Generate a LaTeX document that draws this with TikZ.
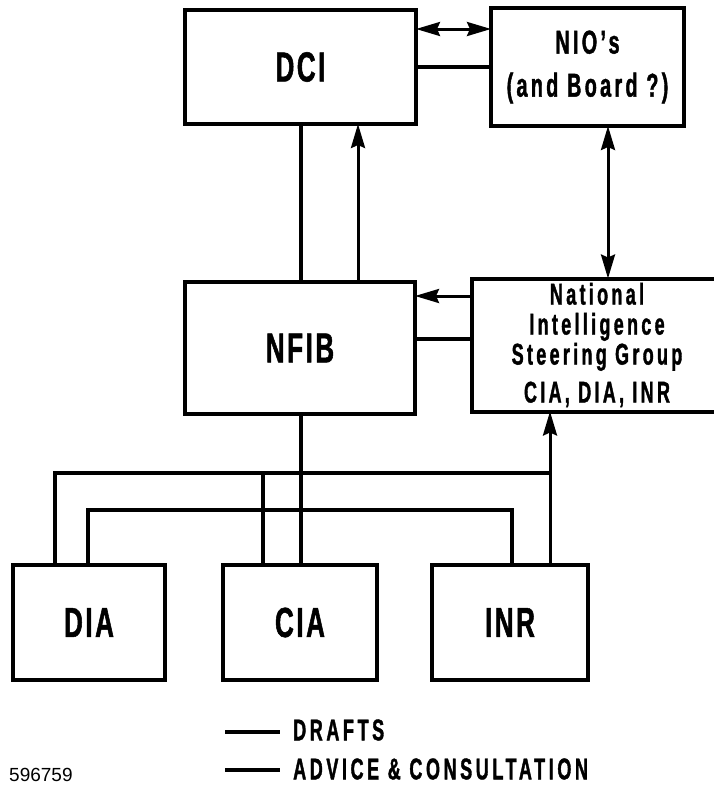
\documentclass[tikz,border=0pt]{standalone}
\usepackage{fontspec}
\newfontfamily\condA{Liberation Sans}[FakeStretch=0.62,LetterSpace=6,FakeBold=1.2]
\newfontfamily\condB{Liberation Sans}[FakeStretch=0.6,LetterSpace=10,FakeBold=1.2]
\newfontfamily\condC{Liberation Sans}[FakeStretch=0.6,LetterSpace=11,FakeBold=1.2]
\newfontfamily\condD{Liberation Sans}[FakeStretch=0.6,LetterSpace=12,FakeBold=1.2]
\newfontfamily\plainf{Liberation Sans}
\usetikzlibrary{arrows.meta}
\begin{document}
\begin{tikzpicture}[x=1pt,y=-1pt,
  box/.style={draw,line width=4pt,inner sep=0pt,outer sep=0pt},
  conn/.style={line width=3.5pt},
  tip/.tip={Stealth[length=24pt,width=14pt,inset=3pt]},
  arr/.style={line width=3pt,-tip},
  darr/.style={line width=3pt,tip-tip},
  big/.style={font=\condA\bfseries\fontsize{42}{44}\selectfont},
  mid/.style={font=\condB\bfseries\fontsize{33}{43}\selectfont},
  leg/.style={font=\condD\bfseries\fontsize{30}{32}\selectfont}]
\useasboundingbox (0,0) rectangle (714,787);
\clip (0,0) rectangle (714,787);

% boxes
\node[box,big,minimum width=231pt,minimum height=114pt] (dci) at (300.5,67) {DCI};
\node[box,mid,align=center,minimum width=193pt,minimum height=118pt] (nio) at (587.5,67) {NIO’s\\(and Board ?)};
\node[box,big,minimum width=230pt,minimum height=132pt] (nfib) at (300,348) {NFIB};
\node[box,align=center,minimum width=250pt,minimum height=133pt,
      font=\condC\bfseries\fontsize{30}{30}\selectfont] (nisg) at (597,345)
      {National\\Intelligence\\Steering Group\\[8pt]CIA, DIA, INR};
\node[box,big,minimum width=152pt,minimum height=115pt] (dia) at (89,622.5) {DIA};
\node[box,big,minimum width=154pt,minimum height=115pt] (cia) at (300,622.5) {CIA};
\node[box,big,minimum width=156pt,minimum height=115pt] (inr) at (510,622.5) {INR};

% helper coordinates
\coordinate (ya) at (0,29);
\coordinate (yb) at (0,67);
\coordinate (xa) at (301,0);
\coordinate (xb) at (358,0);
\coordinate (xc) at (608,0);
\coordinate (yc) at (0,296);
\coordinate (yd) at (0,339);
\coordinate (o1) at (55,473);
\coordinate (o2) at (550,473);
\coordinate (c1) at (263,473);
\coordinate (i1) at (88,510);
\coordinate (i2) at (512,510);

% top connections
\draw[darr] (dci.east |- ya) -- (nio.west |- ya);
\draw[conn] (dci.east |- yb) -- (nio.west |- yb);
\draw[conn] (dci.south -| xa) -- (nfib.north -| xa);
\draw[arr] (nfib.north -| xb) -- (dci.south -| xb);
\draw[darr] (nio.south -| xc) -- (nisg.north -| xc);
\draw[arr] (nisg.west |- yc) -- (nfib.east |- yc);
\draw[conn] (nisg.west |- yd) -- (nfib.east |- yd);

% bottom connections
\draw[conn] (dia.north -| o1) -- (o1) -- (o2);
\draw[conn] (cia.north -| c1) -- (c1);
\draw[arr] (inr.north -| o2) -- (nisg.south -| o2);
\draw[conn] (dia.north -| i1) -- (i1) -- (i2) -- (inr.north -| i2);
\draw[conn] (nfib.south -| xa) -- (cia.north -| xa);

% legend
\coordinate (l1a) at (225,732);
\coordinate (l1b) at (280,732);
\coordinate (l2a) at (225,770);
\coordinate (l2b) at (280,770);
\draw[conn] (l1a) -- (l1b);
\draw[conn] (l2a) -- (l2b);
\node[leg,anchor=west,inner sep=0pt] (ldr) at (293,730) {DRAFTS};
\node[leg,anchor=west,inner sep=0pt] (lad) at (293,769) {ADVICE \& CONSULTATION};
\node[anchor=west,inner sep=0pt,font=\plainf\fontsize{19}{20}\selectfont] (num) at (9,775) {596759};
\end{tikzpicture}
\end{document}
